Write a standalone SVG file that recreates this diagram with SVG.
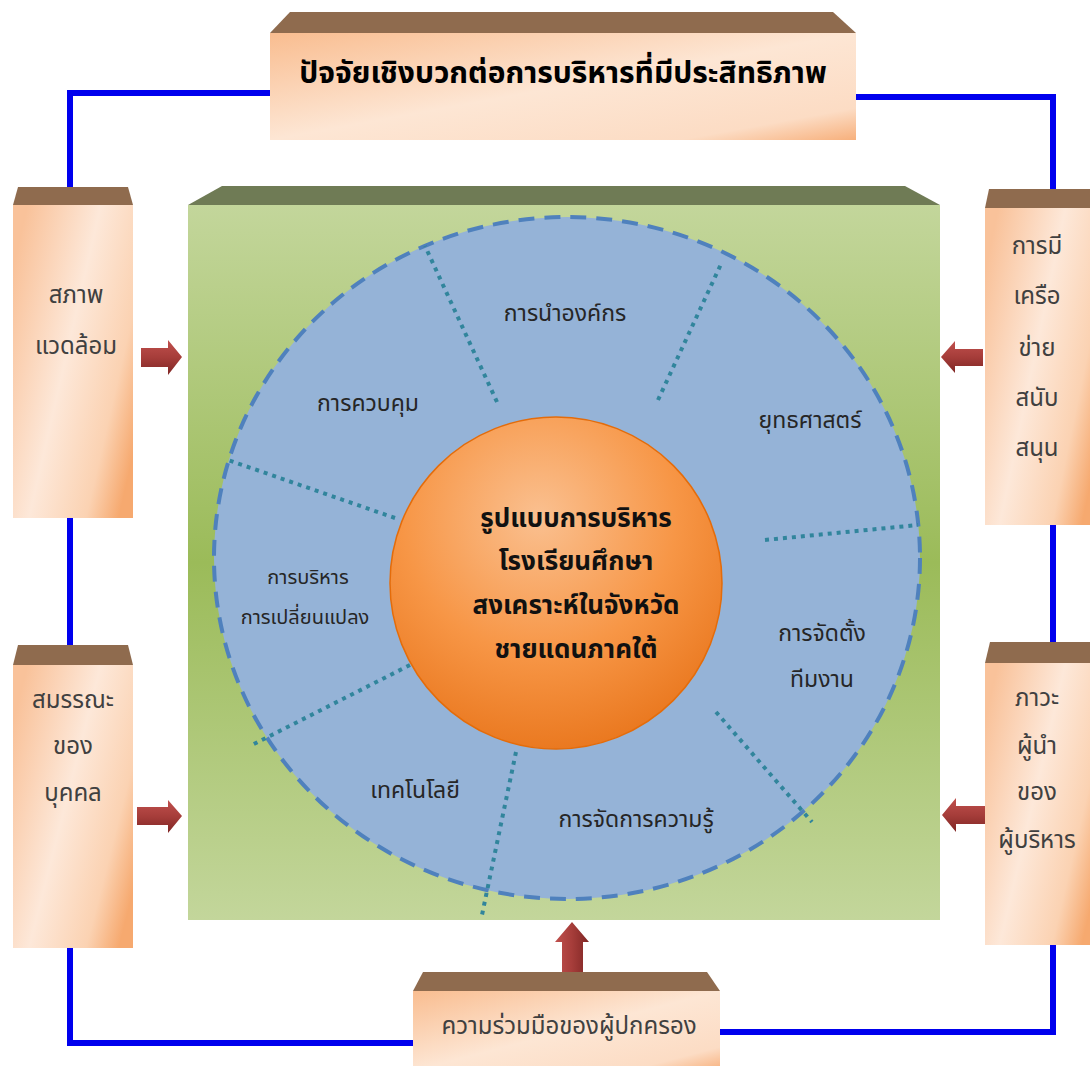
<svg xmlns="http://www.w3.org/2000/svg" width="1090" height="1066" viewBox="0 0 1090 1066">
<defs>
<linearGradient id="boxFront" x1="0" y1="0.2" x2="1" y2="0.8">
<stop offset="0" stop-color="#f9c29a"/>
<stop offset="0.45" stop-color="#fde8d9"/>
<stop offset="0.8" stop-color="#fbd2b2"/>
<stop offset="1" stop-color="#f6a96f"/>
</linearGradient>
<linearGradient id="boxFrontWide" x1="0" y1="0" x2="1" y2="1">
<stop offset="0" stop-color="#f9bd90"/>
<stop offset="0.5" stop-color="#fde6d4"/>
<stop offset="0.85" stop-color="#fcdcc4"/>
<stop offset="1" stop-color="#f7b07c"/>
</linearGradient>
<linearGradient id="green" x1="0" y1="0" x2="0" y2="1">
<stop offset="0" stop-color="#c3d69b"/>
<stop offset="0.5" stop-color="#9bbb59"/>
<stop offset="1" stop-color="#c3d69b"/>
</linearGradient>
<radialGradient id="orange" cx="0.45" cy="0.3" r="0.75">
<stop offset="0" stop-color="#fac090"/>
<stop offset="0.55" stop-color="#f79646"/>
<stop offset="1" stop-color="#e8741a"/>
</radialGradient>
<linearGradient id="arrowH" x1="0" y1="0" x2="0" y2="1">
<stop offset="0" stop-color="#c0504d"/>
<stop offset="0.5" stop-color="#a63d3a"/>
<stop offset="1" stop-color="#7f2624"/>
</linearGradient>
<linearGradient id="arrowV" x1="0" y1="0" x2="1" y2="0">
<stop offset="0" stop-color="#c0504d"/>
<stop offset="0.5" stop-color="#a63d3a"/>
<stop offset="1" stop-color="#7f2624"/>
</linearGradient>
<style>
.top{fill:#8f6b4e}
.front{fill:url(#boxFront)}
.frontw{fill:url(#boxFrontWide)}
.conn{fill:none;stroke:#0000ee;stroke-width:6;stroke-linejoin:miter}
.box{font-family:"Noto Sans Thai","Tahoma","DejaVu Sans","Noto Sans",sans-serif;font-size:24px;fill:#404040;text-anchor:middle}
.lbl{font-family:"Noto Sans Thai","Tahoma","DejaVu Sans","Noto Sans",sans-serif;font-size:23px;fill:#262626;text-anchor:middle}
.sm{font-size:20px}
.ttl{font-family:"Noto Sans Thai","Tahoma","DejaVu Sans","Noto Sans",sans-serif;font-size:30px;font-weight:bold;fill:#000;text-anchor:middle}
.ctr{font-family:"Noto Sans Thai","Tahoma","DejaVu Sans","Noto Sans",sans-serif;font-size:26px;font-weight:bold;fill:#111;text-anchor:middle}
.div{stroke:#31859c;stroke-width:4;stroke-dasharray:4 5;fill:none}
</style>
</defs>
<rect width="1090" height="1066" fill="#ffffff"/>

<g id="connectors">
<polyline class="conn" points="270,93 70,93 70,187"/>
<line class="conn" x1="70" y1="518" x2="70" y2="645"/>
<polyline class="conn" points="70,948 70,1043 413,1043"/>
<polyline class="conn" points="720,1032 1053,1032 1053,945"/>
<line class="conn" x1="1053" y1="642" x2="1053" y2="525"/>
<polyline class="conn" points="856,97 1053,97 1053,189"/>
</g>

<g id="model">
<polygon fill="#6f7b55" points="222,186 905,186 940,205 188,205"/>
<rect x="188" y="205" width="752" height="715" fill="url(#green)"/>
<ellipse cx="567" cy="558" rx="353" ry="341" fill="#95b3d7" stroke="#4f81bd" stroke-width="4" stroke-dasharray="16 10"/>
<line class="div" x1="497" y1="402" x2="425" y2="246"/>
<line class="div" x1="658" y1="400" x2="722" y2="262"/>
<line class="div" x1="765" y1="540" x2="918" y2="525"/>
<line class="div" x1="716" y1="712" x2="812" y2="822"/>
<line class="div" x1="516" y1="752" x2="482" y2="915"/>
<line class="div" x1="410" y1="665" x2="252" y2="745"/>
<line class="div" x1="395" y1="518" x2="228" y2="460"/>
<circle cx="556" cy="583" r="166" fill="url(#orange)" stroke="#e46c0a" stroke-width="1.5"/>
<text class="ctr" x="576" y="527">รูปแบบการบริหาร</text>
<text class="ctr" x="576" y="570">โรงเรียนศึกษา</text>
<text class="ctr" x="576" y="614">สงเคราะห์ในจังหวัด</text>
<text class="ctr" x="576" y="658">ชายแดนภาคใต้</text>
<text class="lbl" x="565" y="321">การนำองค์กร</text>
<text class="lbl" x="810" y="428">ยุทธศาสตร์</text>
<text class="lbl" x="822" y="641">การจัดตั้ง</text>
<text class="lbl" x="822" y="687">ทีมงาน</text>
<text class="lbl" x="636" y="827">การจัดการความรู้</text>
<text class="lbl" x="415" y="798">เทคโนโลยี</text>
<text class="lbl sm" x="308" y="584">การบริหาร</text>
<text class="lbl sm" x="305" y="624">การเปลี่ยนแปลง</text>
<text class="lbl" x="368" y="411">การควบคุม</text>
</g>

<g id="title-box">
<polygon class="top" points="290,12 833,12 856,33 270,33"/>
<rect class="frontw" x="270" y="33" width="586" height="107"/>
<text class="ttl" x="563" y="83">ปัจจัยเชิงบวกต่อการบริหารที่มีประสิทธิภาพ</text>
</g>

<g id="environment">
<polygon class="top" points="18,187 128,187 133,205 13,205"/>
<rect class="front" x="13" y="205" width="120" height="313"/>
<text class="box" x="76" y="303">สภาพ</text>
<text class="box" x="76" y="354">แวดล้อม</text>
<path fill="url(#arrowH)" d="M141,348 L168,348 L168,340 L182,357 L168,375 L168,367 L141,367 Z"/>
</g>

<g id="competency">
<polygon class="top" points="18,645 128,645 133,665 13,665"/>
<rect class="front" x="13" y="665" width="120" height="283"/>
<text class="box" x="73" y="708">สมรรณะ</text>
<text class="box" x="73" y="754">ของ</text>
<text class="box" x="73" y="801">บุคคล</text>
<path fill="url(#arrowH)" d="M137,807 L168,807 L168,800 L182,816 L168,833 L168,825 L137,825 Z"/>
</g>

<g id="network">
<polygon class="top" points="989,189 1090,189 1090,208 985,208"/>
<rect class="front" x="985" y="208" width="110" height="317"/>
<text class="box" x="1037" y="254">การมี</text>
<text class="box" x="1037" y="304">เครือ</text>
<text class="box" x="1037" y="356">ข่าย</text>
<text class="box" x="1037" y="406">สนับ</text>
<text class="box" x="1037" y="456">สนุน</text>
<path fill="url(#arrowH)" d="M983,349 L955,349 L955,341 L941,357 L955,373 L955,366 L983,366 Z"/>
</g>

<g id="leadership">
<polygon class="top" points="990,642 1090,642 1090,663 985,663"/>
<rect class="front" x="985" y="663" width="110" height="282"/>
<text class="box" x="1037" y="706">ภาวะ</text>
<text class="box" x="1037" y="754">ผู้นำ</text>
<text class="box" x="1037" y="800">ของ</text>
<text class="box" x="1037" y="848">ผู้บริหาร</text>
<path fill="url(#arrowH)" d="M985,806 L956,806 L956,798 L942,815 L956,832 L956,824 L985,824 Z"/>
</g>

<g id="parents">
<polygon class="top" points="423,972 707,972 720,991 413,991"/>
<rect class="frontw" x="413" y="991" width="307" height="80"/>
<text class="box" x="569" y="1034">ความร่วมมือของผู้ปกครอง</text>
<path fill="url(#arrowV)" d="M562,972 L562,942 L555,942 L572,922 L589,942 L583,942 L583,972 Z"/>
</g>
</svg>
